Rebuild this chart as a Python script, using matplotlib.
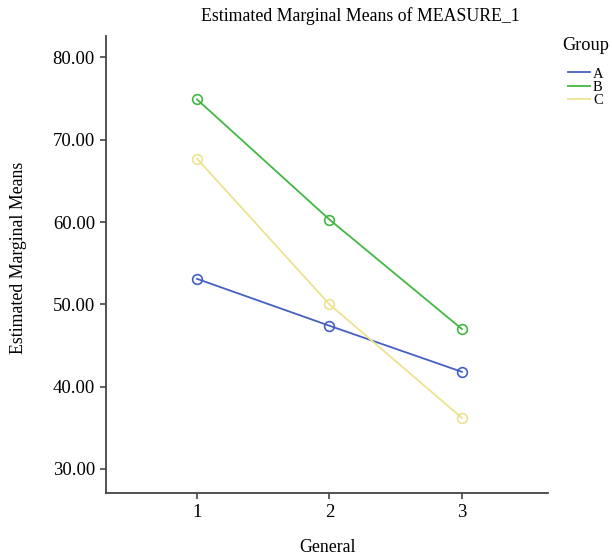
import matplotlib
matplotlib.use('Agg')
import matplotlib.pyplot as plt
from matplotlib.lines import Line2D

plt.rcParams['font.family'] = ['Liberation Serif', 'DejaVu Serif']

general = [1, 2, 3]
group_a = [53.1, 47.4, 41.8]
group_b = [74.9, 60.3, 47.0]
group_c = [67.7, 50.0, 36.2]
groups = ['A', 'B', 'C']
colors = ['#4560c2', '#42b842', '#ece38f']
yticks = [30, 40, 50, 60, 70, 80]

fig = plt.figure(figsize=(6.12, 5.6), dpi=100)
ax = fig.add_axes([106/612, 1 - 493/560, 442/612, 457/560])

for vals, col, name in zip([group_a, group_b, group_c], colors, groups):
	ax.plot(general, vals, color=col, lw=1.3, marker='o', ms=7, mfc='none', mec=col, mew=1.2, label=name)

ax.set_xlim(0.313, 3.65)
ax.set_ylim(27.08, 82.6)
ax.set_xticks(general)
ax.set_xticklabels(['1', '2', '3'])
ax.set_yticks(yticks)
ax.set_yticklabels(['%.2f' % v for v in yticks])
ax.spines['top'].set_visible(False)
ax.spines['right'].set_visible(False)
for s in ['left', 'bottom']:
	ax.spines[s].set_color('#444444')
	ax.spines[s].set_linewidth(1.3)
ax.tick_params(direction='out', length=4, width=1.2, color='#444444', labelsize=13.5, pad=4)

fig.text(360/612, 1 - 16/560, 'Estimated Marginal Means of MEASURE_1', ha='center', va='center', fontsize=12.8)
fig.text(328/612, 1 - 548/560, 'General', ha='center', va='center', fontsize=12.8)
fig.text(19/612, 1 - 258/560, 'Estimated Marginal Means', ha='center', va='center', rotation=90, fontsize=12.8)

# legend: title as plain text, entries packed tight like the original
fig.text(562/612, 1 - 46/560, 'Group', ha='left', va='center', fontsize=13.2)
handles = [Line2D([0], [0], color=c, lw=1.3) for c in colors]
fig.legend(handles, groups, loc='upper left', bbox_to_anchor=(561/612, 1 - 60/560),
	frameon=False, fontsize=10.5, handlelength=1.5, handletextpad=0.2,
	labelspacing=0.0, borderpad=0)

fig.savefig('out.png', dpi=100)
